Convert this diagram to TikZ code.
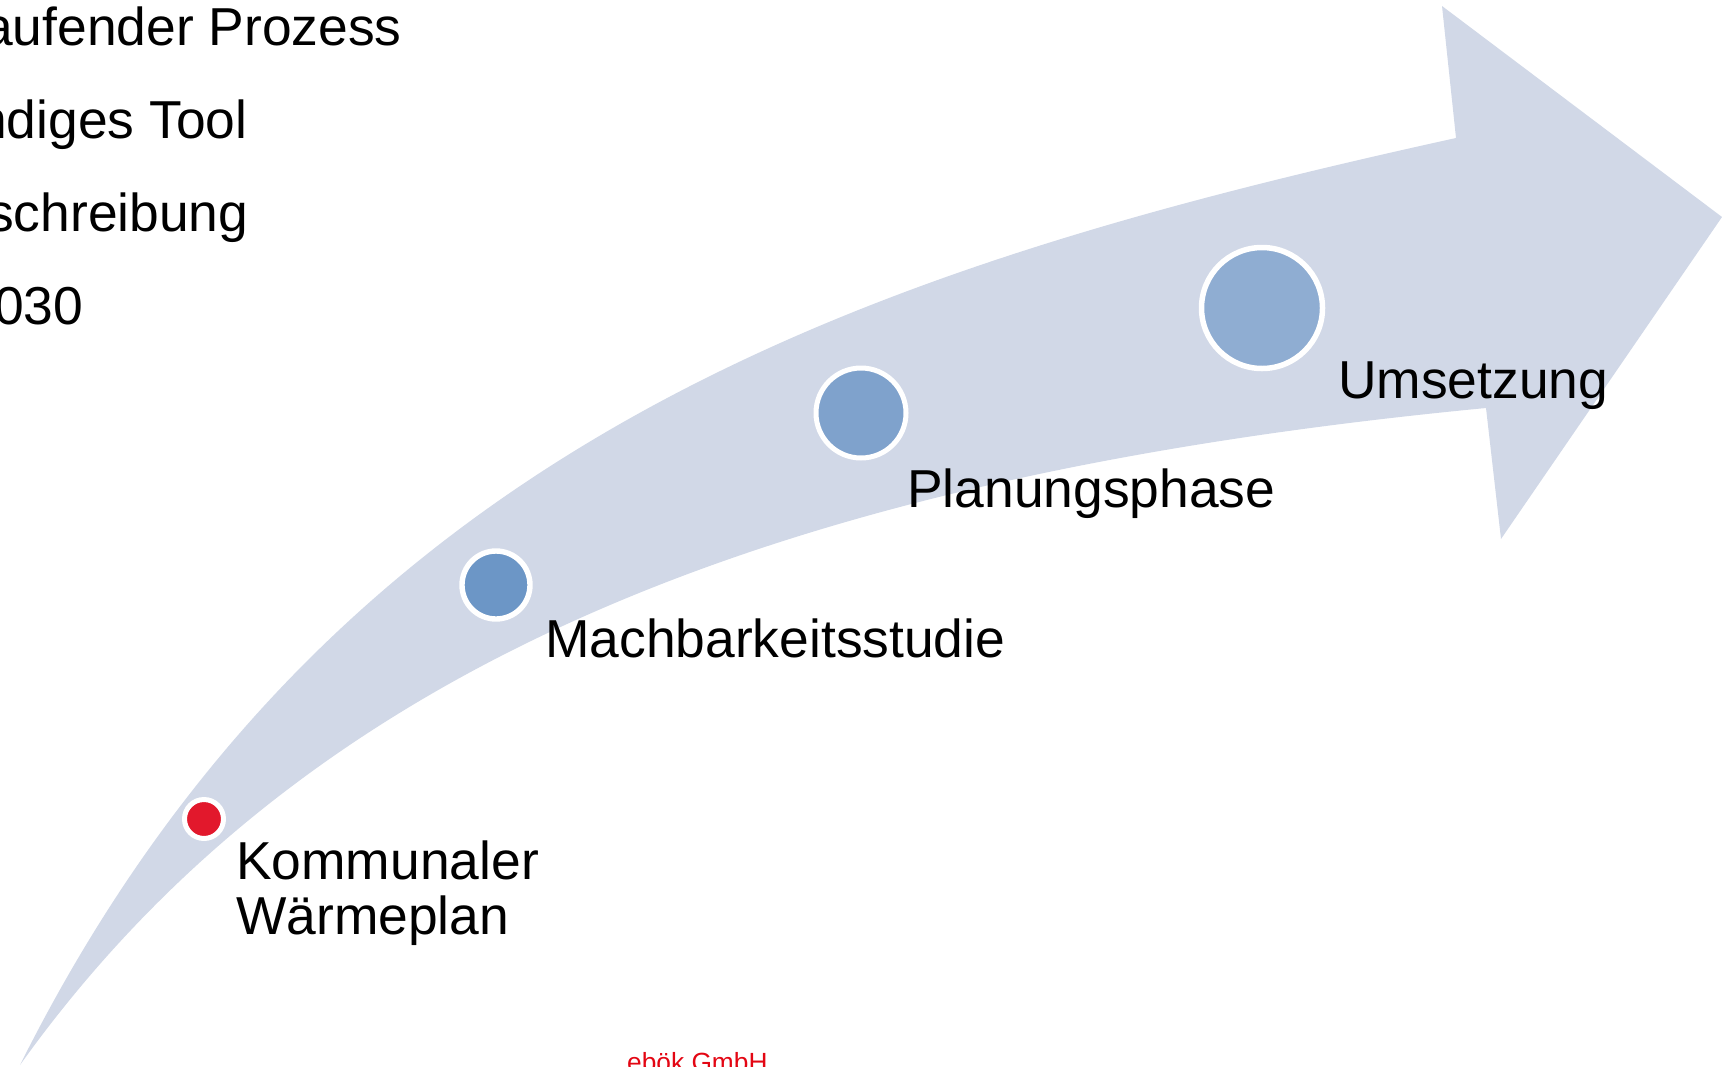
\documentclass[tikz,border=0pt]{standalone}
\usepackage{fontspec}
\setmainfont{Liberation Sans}
\definecolor{arrowfill}{RGB}{209,216,231}
\definecolor{dotred}{RGB}{226,24,44}
\definecolor{dotA}{RGB}{108,150,198}
\definecolor{dotB}{RGB}{127,162,204}
\definecolor{dotC}{RGB}{143,173,210}
\definecolor{ebred}{RGB}{227,6,19}
\begin{document}
\begin{tikzpicture}[x=1pt,y=-1pt,
  lbl/.style={anchor=base west, inner sep=0pt, font=\fontsize{53.4}{55}\selectfont},
  dot/.style={circle, draw=white, inner sep=0pt}]
\useasboundingbox (0,0) rectangle (1722,1066);
% arrow
\fill[arrowfill] (20,1065) .. controls (333,439) and (870,267) .. (1456,138)
  -- (1442,6) -- (1722,217) -- (1501,539) -- (1486,408)
  .. controls (789,475) and (311,658) .. (20,1065) -- cycle;
% dots
\node[dot, fill=dotred, line width=5pt, minimum size=39pt] (s1) at (204,819) {};
\node[dot, fill=dotA, line width=5.4pt, minimum size=68pt] (s2) at (496,585) {};
\node[dot, fill=dotB, line width=5pt, minimum size=90pt] (s3) at (861,413) {};
\node[dot, fill=dotC, line width=5.5pt, minimum size=121pt] (s4) at (1262,308) {};
% stage labels
\node[lbl, align=left] (t1) at (236,934) {Kommunaler\\Wärmeplan};
\node[lbl] (t2) at (545,657) {Machbarkeitsstudie};
\node[lbl] (t3) at (907,507) {Planungsphase};
\node[lbl] (t4) at (1338,398) {Umsetzung};
% cut-off list at top left
\node[lbl] (l1) at (-17,45) {aufender Prozess};
\node[lbl] (l2) at (-23,138) {ndiges Tool};
\node[lbl] (l3) at (-13,231) {schreibung};
\node[lbl] (l4) at (-6,324) {030};
% footer
\node[anchor=base west, inner sep=0pt, font=\fontsize{26.3}{28}\selectfont, text=ebred] (eb) at (627,1071) {ebök GmbH};
\end{tikzpicture}
\end{document}
